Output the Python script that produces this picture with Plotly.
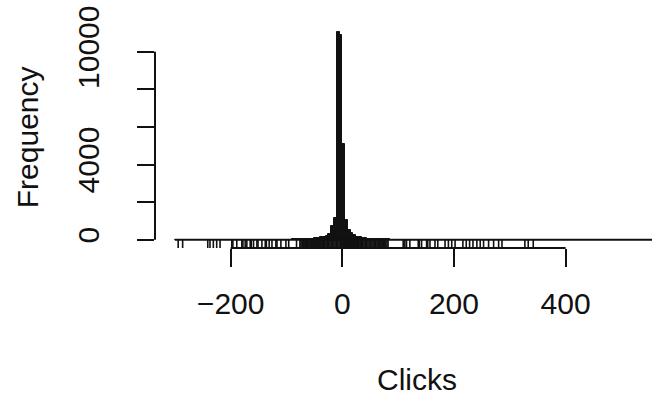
import plotly.graph_objects as go

# ---- data ----
bin_start = -300
bin_width = 5
# counts for bins [-300,-295), [-295,-290), ... up to 600
counts = [
    # -300 .. -200 (20 bins)
    1, 0, 1, 0, 0, 0, 0, 0, 0, 0, 1, 1, 0, 1, 1, 0, 0, 0, 0, 0,
    # -200 .. -100 (20 bins)
    2, 1, 1, 2, 2, 1, 1, 2, 3, 2, 3, 3, 2, 3, 4, 4, 5, 5, 6, 6,
    # -100 .. -60 (8 bins)
    8, 10, 12, 15, 18, 22, 28, 35,
    # -60 .. -20 (8 bins)
    45, 60, 80, 105, 135, 170, 215, 290,
    # -20 .. 20 (8 bins)
    710, 1150, 11050, 10900, 5100, 1070, 520, 330,
    # 20 .. 60 (8 bins)
    230, 170, 120, 90, 65, 50, 38, 30,
    # 60 .. 100 (8 bins)
    25, 20, 17, 14, 12, 10, 9, 8,
    # 100 .. 200 (20 bins)
    7, 6, 6, 5, 5, 4, 4, 4, 3, 3, 3, 3, 2, 2, 2, 2, 2, 2, 1, 1,
    # 200 .. 300 (20 bins)
    2, 1, 1, 1, 1, 1, 1, 1, 0, 1, 1, 1, 0, 0, 1, 0, 1, 0, 0, 0,
    # 300 .. 400 (20 bins)
    0, 0, 0, 0, 0, 1, 0, 1, 1, 0, 0, 0, 0, 0, 0, 0, 0, 0, 0, 0,
    # 400 .. 500 (20 bins)
    0, 0, 0, 0, 0, 0, 0, 0, 0, 0, 0, 0, 0, 0, 0, 0, 0, 0, 0, 0,
    # 500 .. 600 (20 bins)
    0, 0, 0, 0, 0, 0, 0, 0, 0, 0, 0, 0, 0, 0, 0, 0, 0, 0, 0, 1,
]

rug_values = [
    -294, -286, -241, -237, -231, -225, -219,
    -198, -196, -189, -180, -178, -174, -171, -165, -163, -159, -153, -151,
    -144, -138, -136, -131, -126, -119, -117, -110, -101, -96, -82,
    -76, -74, -72, -71, -69, -67, -66, -64, -62, -60, -58, -57, -55, -53,
    -51, -50, -48, -46, -45, -43, -41, -39, -38, -36, -34, -32, -31, -29,
    -27, -25, -24, -22, -20, -18, -17, -15, -13, -11, -10, -8, -6, -4,
    -3, -1, 1, 2, 4, 6, 8, 9, 11, 13, 15, 16, 18, 20, 22, 23, 25, 27,
    29, 30, 32, 34, 36, 37, 39, 41, 43, 44, 46, 48, 50, 51, 53, 55, 57,
    58, 60, 62, 64, 65, 67, 69, 71, 72, 74, 76, 78, 80,
    82, 109, 112, 115, 121,
    136, 138, 142, 151, 153, 157, 166, 171,
    184, 190, 196, 202,
    216, 222, 228, 234, 241, 247,
    253, 262, 271, 280, 286,
    327, 333, 342,
]

x_ticks = [-200, 0, 200, 400]
y_ticks = [0, 2000, 4000, 6000, 8000, 10000]
y_ticktext = ["0", "", "4000", "", "", "10000"]

x_range = [-335.5, 554.7]
y_range = [-442, 11423]

# ---- derived ----
edges = [bin_start + bin_width * i for i in range(len(counts) + 1)]
centers = [e + bin_width / 2 for e in edges[:-1]]

FONT = "Liberation Sans, Arial, Helvetica, sans-serif"
INK = "#111111"

fig = go.Figure()
fig.add_trace(go.Bar(
    x=centers, y=counts, width=bin_width,
    marker=dict(color=INK, line=dict(color=INK, width=1.0)),
    showlegend=False, hoverinfo="skip",
))
# baseline of (empty) bins
fig.add_trace(go.Scatter(
    x=[edges[0], edges[-1]], y=[0, 0], mode="lines",
    line=dict(color=INK, width=2), showlegend=False, hoverinfo="skip",
))

shapes = []
# rug
for v in rug_values:
    shapes.append(dict(type="line", xref="x", yref="paper", x0=v, x1=v,
                       y0=0, y1=0.04, line=dict(color=INK, width=1.6)))
# R style axis lines spanning first..last tick
shapes.append(dict(type="line", xref="x", yref="paper",
                   x0=min(x_ticks), x1=max(x_ticks), y0=0, y1=0,
                   line=dict(color=INK, width=2)))
shapes.append(dict(type="line", xref="paper", yref="y",
                   x0=0, x1=0, y0=min(y_ticks), y1=max(y_ticks),
                   line=dict(color=INK, width=2)))

fig.update_layout(
    width=652, height=399,
    margin=dict(l=155, r=0, t=25, b=151),
    paper_bgcolor="white", plot_bgcolor="white",
    bargap=0,
    shapes=shapes,
    font=dict(family=FONT, size=30, color=INK),
    xaxis=dict(range=x_range, tickvals=x_ticks, ticktext=[str(t).replace("-", "\u2212") for t in x_ticks],
               ticks="outside", ticklen=18, tickwidth=2, tickcolor=INK,
               showline=False, showgrid=False, zeroline=False,
               tickfont=dict(size=30, family=FONT, color=INK), ticklabelstandoff=11),
    yaxis=dict(range=y_range, tickvals=y_ticks, ticktext=y_ticktext,
               ticks="outside", ticklen=17, tickwidth=2, tickcolor=INK,
               showline=False, showgrid=False, zeroline=False, tickangle=-90,
               tickfont=dict(size=30, family=FONT, color=INK), ticklabelstandoff=26),
    annotations=[
        dict(text="Clicks", xref="paper", yref="paper",
             x=(417 - 155) / (652 - 155), y=-(379 - 247.6) / 222.6,
             xanchor="center", yanchor="middle", showarrow=False,
             font=dict(size=30, family=FONT, color=INK)),
        dict(text="Frequency", xref="paper", yref="paper",
             x=-(155 - 27) / (652 - 155), y=(247.6 - 137) / 222.6,
             xanchor="center", yanchor="middle", showarrow=False, textangle=-90,
             font=dict(size=30, family=FONT, color=INK)),
    ],
)

fig.write_html("out.html")
